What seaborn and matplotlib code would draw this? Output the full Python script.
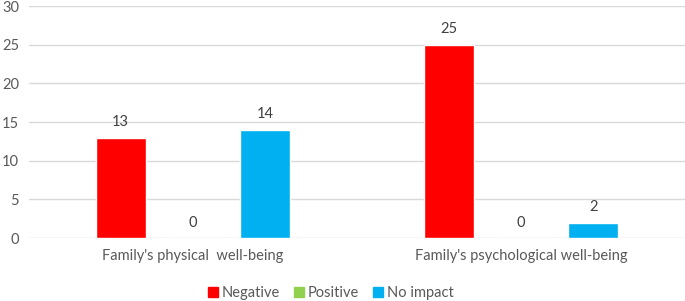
import pandas as pd
import numpy as np
import matplotlib
matplotlib.use("Agg")
import matplotlib.pyplot as plt
import matplotlib.patches as mpatches
import seaborn as sns

# data
categories = ["Family's physical  well-being", "Family's psychological well-being"]
impacts = ["Negative", "Positive", "No impact"]
negative = [13, 25]
positive = [0, 0]
no_impact = [14, 2]

palette = {"Negative": "#FF0000", "Positive": "#92D050", "No impact": "#00B0F0"}

df = pd.DataFrame({
    "category": categories * 3,
    "impact": np.repeat(impacts, len(categories)),
    "count": negative + positive + no_impact,
})

sns.set_theme(style="white")
plt.rcParams["font.family"] = ["Lato", "DejaVu Sans"]

fig = plt.figure(figsize=(6.85, 3.01), dpi=100)
ax = fig.add_axes([0.042, 0.209, 0.958, 0.771])

sns.barplot(
    data=df, x="category", y="count", hue="impact",
    order=categories, hue_order=impacts, palette=palette,
    width=0.66, gap=0.31, saturation=1, legend=False, ax=ax
)

ax.set_xlim(-0.5, 1.5)
ax.set_ylim(0, 30)
ax.set_yticks(range(0, 31, 5))
ax.grid(axis="y", color="#d9d9d9", linewidth=1)
ax.set_axisbelow(True)
for s in ax.spines.values():
    s.set_visible(False)
ax.tick_params(axis="both", length=0, labelsize=10.5, labelcolor="#595959")
ax.tick_params(axis="y", pad=7)
ax.tick_params(axis="x", pad=8)
ax.set_xlabel("")
ax.set_ylabel("")

for c in ax.containers:
    ax.bar_label(c, fmt="%d", padding=6, fontsize=10.5, color="#404040")

handles = [mpatches.Patch(color=palette[k], label=k) for k in impacts]
fig.legend(
    handles=handles, loc="center", bbox_to_anchor=(0.483, 0.027), ncol=3,
    frameon=False, fontsize=10.5, labelcolor="#595959",
    handlelength=0.65, handleheight=0.65, handletextpad=0.25, columnspacing=1.0
)

fig.savefig("out.png", dpi=100)
